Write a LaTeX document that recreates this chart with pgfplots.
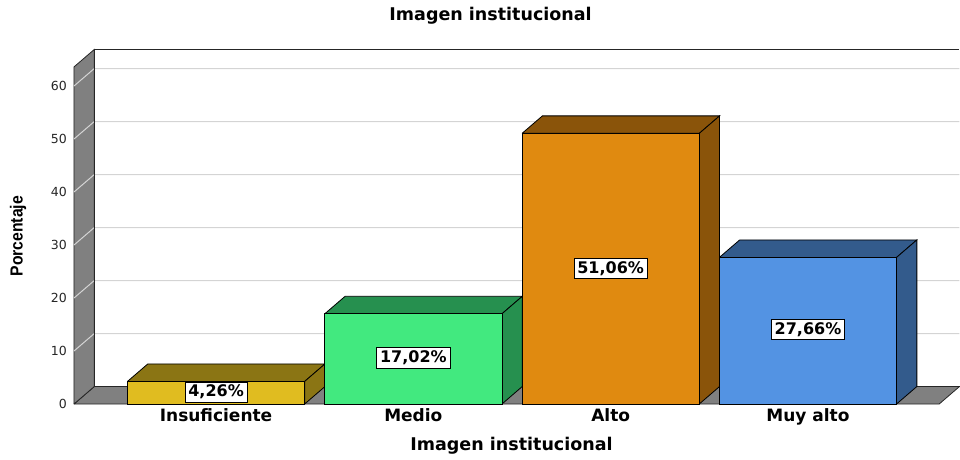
\documentclass[border=0pt]{standalone}
\usepackage{fontspec}
\setmainfont{DejaVu Sans}
\newfontfamily\arialfont{Liberation Sans}
\usepackage{graphicx}
\usepackage{pgfplots}
\pgfplotsset{compat=1.18}

\definecolor{insF}{RGB}{224,188,32}
\definecolor{insD}{RGB}{139,117,20}
\definecolor{medF}{RGB}{66,233,127}
\definecolor{medD}{RGB}{38,144,79}
\definecolor{altF}{RGB}{224,138,16}
\definecolor{altD}{RGB}{138,84,10}
\definecolor{muyF}{RGB}{83,147,227}
\definecolor{muyD}{RGB}{51,91,140}
\definecolor{wallG}{RGB}{128,128,128}
\definecolor{gridG}{RGB}{212,212,212}

\begin{document}
\begin{tikzpicture}
\useasboundingbox (-74pt,-55pt) rectangle (886pt,404pt);
\begin{axis}[
  at={(0,0)}, anchor=south west,
  x=197.3pt, y=5.3pt,
  xmin=-0.72, xmax=3.665, ymin=0, ymax=63.6,
  clip=false,
  axis line style={draw=none},
  major tick length=0pt,
  xtick={0,1,2,3},
  xticklabels={Insuficiente,Medio,Alto,Muy alto},
  ytick={0,10,...,60},
  xticklabel style={font=\fontsize{17}{20}\selectfont\bfseries, anchor=base, yshift=-17pt},
  yticklabel style={font=\fontsize{12.5}{14}\selectfont, anchor=east, inner sep=0pt, xshift=-7pt, text=black!85},
  /pgf/number format/assume math mode=true,
  title={Imagen institucional},
  title style={at={(axis description cs:0.4815,1.12)}, anchor=base, font=\fontsize{17.5}{20}\selectfont\bfseries},
  xlabel={Imagen institucional},
  xlabel style={at={(axis description cs:0.5057,-0.1394)}, anchor=base, font=\fontsize{17.5}{20}\selectfont\bfseries},
  ylabel={\scalebox{0.9}[1]{\arialfont\bfseries Porcentaje}},
  ylabel style={at={(axis description cs:-0.0647,0.498)}, anchor=center, font=\fontsize{17.5}{20}\selectfont},
]
% floor
\addplot[fill=wallG, draw=black!85, line width=0.8pt, mark=none]
  coordinates {(-0.72,0) (3.665,0) (3.768,3.3) (-0.617,3.3) (-0.72,0)};
% left wall
\addplot[fill=wallG, draw=black!85, line width=0.8pt, mark=none]
  coordinates {(-0.72,0) (-0.72,63.6) (-0.617,66.9) (-0.617,3.3) (-0.72,0)};
% grid lines (side wall diagonal + back wall)
\addplot[gridG, line width=1pt, mark=none] coordinates {(-0.72,10) (-0.617,13.3) (3.768,13.3)};
\addplot[gridG, line width=1pt, mark=none] coordinates {(-0.72,20) (-0.617,23.3) (3.768,23.3)};
\addplot[gridG, line width=1pt, mark=none] coordinates {(-0.72,30) (-0.617,33.3) (3.768,33.3)};
\addplot[gridG, line width=1pt, mark=none] coordinates {(-0.72,40) (-0.617,43.3) (3.768,43.3)};
\addplot[gridG, line width=1pt, mark=none] coordinates {(-0.72,50) (-0.617,53.3) (3.768,53.3)};
\addplot[gridG, line width=1pt, mark=none] coordinates {(-0.72,60) (-0.617,63.3) (3.768,63.3)};
% back wall outline (left and top edges)
\addplot[black!85, line width=0.8pt, mark=none] coordinates {(-0.617,3.3) (-0.617,66.9) (3.768,66.9)};

% Insuficiente
\addplot[fill=insD, draw=black, line width=0.8pt, mark=none]
  coordinates {(-0.449,4.26) (0.449,4.26) (0.552,7.56) (-0.346,7.56) (-0.449,4.26)};
\addplot[fill=insD, draw=black, line width=0.8pt, mark=none]
  coordinates {(0.449,0) (0.552,3.3) (0.552,7.56) (0.449,4.26) (0.449,0)};
\addplot[ybar, bar width=0.898, bar shift=0pt, fill=insF, draw=black, line width=0.8pt, mark=none]
  coordinates {(0,4.26)};
% Medio
\addplot[fill=medD, draw=black, line width=0.8pt, mark=none]
  coordinates {(0.551,17.02) (1.449,17.02) (1.552,20.32) (0.654,20.32) (0.551,17.02)};
\addplot[fill=medD, draw=black, line width=0.8pt, mark=none]
  coordinates {(1.449,0) (1.552,3.3) (1.552,20.32) (1.449,17.02) (1.449,0)};
\addplot[ybar, bar width=0.898, bar shift=0pt, fill=medF, draw=black, line width=0.8pt, mark=none]
  coordinates {(1,17.02)};
% Alto
\addplot[fill=altD, draw=black, line width=0.8pt, mark=none]
  coordinates {(1.551,51.06) (2.449,51.06) (2.552,54.36) (1.654,54.36) (1.551,51.06)};
\addplot[fill=altD, draw=black, line width=0.8pt, mark=none]
  coordinates {(2.449,0) (2.552,3.3) (2.552,54.36) (2.449,51.06) (2.449,0)};
\addplot[ybar, bar width=0.898, bar shift=0pt, fill=altF, draw=black, line width=0.8pt, mark=none]
  coordinates {(2,51.06)};
% Muy alto
\addplot[fill=muyD, draw=black, line width=0.8pt, mark=none]
  coordinates {(2.551,27.66) (3.449,27.66) (3.552,30.96) (2.654,30.96) (2.551,27.66)};
\addplot[fill=muyD, draw=black, line width=0.8pt, mark=none]
  coordinates {(3.449,0) (3.552,3.3) (3.552,30.96) (3.449,27.66) (3.449,0)};
\addplot[ybar, bar width=0.898, bar shift=0pt, fill=muyF, draw=black, line width=0.8pt, mark=none]
  coordinates {(3,27.66)};

% data labels
\addplot[draw=none, mark=none, point meta=explicit,
  nodes near coords={\pgfmathprintnumber[fixed, fixed zerofill, precision=2, use comma]{\pgfplotspointmeta}\%},
  nodes near coords align=center,
  every node near coord/.append style={anchor=center, fill=white, draw=black, line width=0.6pt,
    inner xsep=3.5pt, inner ysep=3.2pt, font=\fontsize{16}{19}\selectfont\bfseries}]
  coordinates {(0,2.25) [4.26] (1,8.7) [17.02] (2,25.6) [51.06] (3,14.1) [27.66]};
\end{axis}
\end{tikzpicture}
\end{document}
